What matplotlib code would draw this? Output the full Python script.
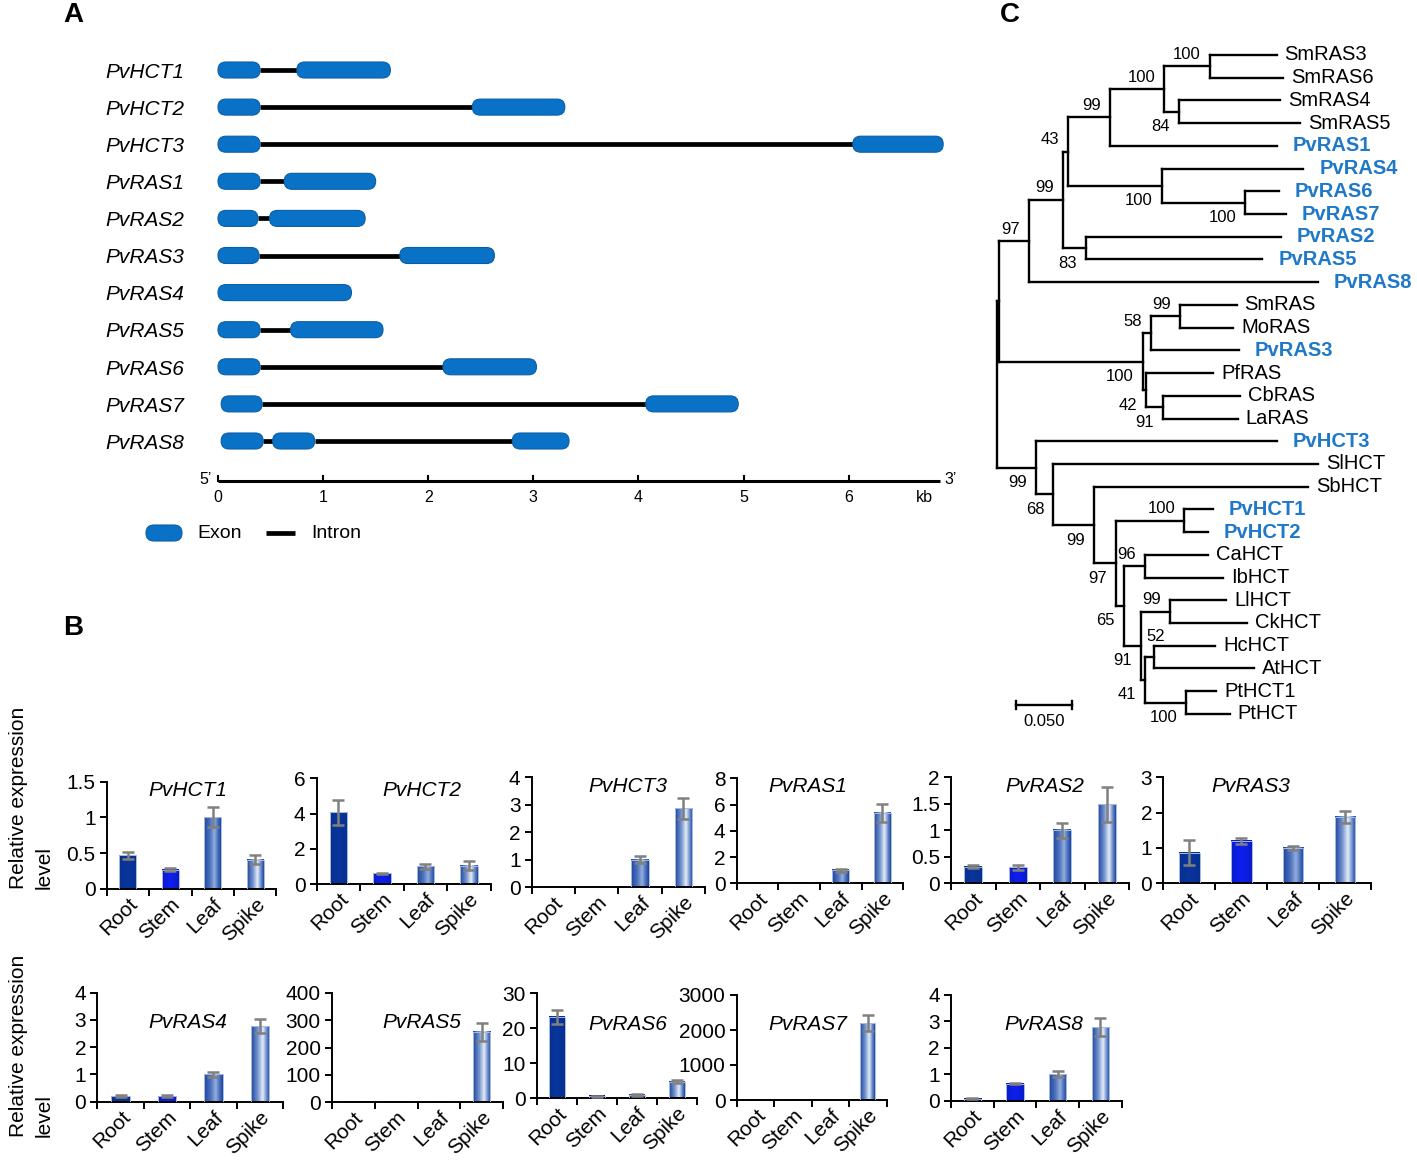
import numpy as np
import matplotlib
matplotlib.use("Agg")
import matplotlib.pyplot as plt
from matplotlib.patches import FancyBboxPatch
from matplotlib.colors import LinearSegmentedColormap
from matplotlib.transforms import ScaledTranslation, blended_transform_factory
from matplotlib.ticker import FormatStrFormatter

plt.rcParams['font.family'] = ['Liberation Sans', 'DejaVu Sans']

# ---------------- data ----------------
# A: exon coordinates (kb) per gene
gene_names = ["PvHCT1", "PvHCT2", "PvHCT3", "PvRAS1", "PvRAS2", "PvRAS3",
              "PvRAS4", "PvRAS5", "PvRAS6", "PvRAS7", "PvRAS8"]
gene_exons = [
    [(0.0, 0.40), (0.75, 1.64)],
    [(0.0, 0.40), (2.42, 3.30)],
    [(0.0, 0.40), (6.04, 6.90)],
    [(0.0, 0.40), (0.63, 1.50)],
    [(0.0, 0.38), (0.49, 1.40)],
    [(0.0, 0.39), (1.73, 2.63)],
    [(0.0, 1.27)],
    [(0.0, 0.40), (0.69, 1.57)],
    [(0.0, 0.40), (2.14, 3.03)],
    [(0.03, 0.42), (4.07, 4.95)],
    [(0.03, 0.43), (0.52, 0.92), (2.80, 3.34)],
]
scale_ticks = [0, 1, 2, 3, 4, 5, 6]

# C: tree (depth in substitutions / site)
tip_names = ["SmRAS3", "SmRAS6", "SmRAS4", "SmRAS5", "PvRAS1", "PvRAS4", "PvRAS6",
             "PvRAS7", "PvRAS2", "PvRAS5", "PvRAS8", "SmRAS", "MoRAS", "PvRAS3",
             "PfRAS", "CbRAS", "LaRAS", "PvHCT3", "SlHCT", "SbHCT", "PvHCT1",
             "PvHCT2", "CaHCT", "IbHCT", "LlHCT", "CkHCT", "HcHCT", "AtHCT",
             "PtHCT1", "PtHCT"]
tip_depth = [0.251, 0.257, 0.254, 0.272, 0.251, 0.275, 0.253, 0.259, 0.255, 0.238,
             0.288, 0.215, 0.212, 0.217, 0.194, 0.218, 0.216, 0.251, 0.288, 0.279,
             0.194, 0.189, 0.189, 0.203, 0.206, 0.224, 0.196, 0.231, 0.197, 0.209]
node_names = ["n1", "n2", "n3", "n4", "n5", "n6", "n7", "n8", "n9", "n10", "n11",
              "n12", "n13", "n14", "n15", "n16", "n17", "n18", "n19", "n20", "n21",
              "n22", "n23", "n24", "n25", "n26", "n27", "n28", "root"]
node_children = [("SmRAS3", "SmRAS6"), ("SmRAS4", "SmRAS5"), ("n1", "n2"), ("n3", "PvRAS1"),
                 ("PvRAS6", "PvRAS7"), ("PvRAS4", "n5"), ("n4", "n6"), ("PvRAS2", "PvRAS5"),
                 ("n7", "n8"), ("n9", "PvRAS8"), ("SmRAS", "MoRAS"), ("n11", "PvRAS3"),
                 ("CbRAS", "LaRAS"), ("PfRAS", "n13"), ("n12", "n14"), ("n10", "n15"),
                 ("PvHCT1", "PvHCT2"), ("CaHCT", "IbHCT"), ("LlHCT", "CkHCT"),
                 ("HcHCT", "AtHCT"), ("PtHCT1", "PtHCT"), ("n20", "n21"), ("n19", "n22"),
                 ("n18", "n23"), ("n17", "n24"), ("SbHCT", "n25"), ("SlHCT", "n26"),
                 ("PvHCT3", "n27"), ("n16", "n28")]
node_depth = [0.191, 0.163, 0.150, 0.101, 0.223, 0.148, 0.0635, 0.080, 0.0595, 0.029,
              0.164, 0.138, 0.149, 0.134, 0.131, 0.002, 0.168, 0.133, 0.155, 0.141,
              0.170, 0.133, 0.129, 0.114, 0.1066, 0.087, 0.0505, 0.0347, 0.0]
node_boot = [100, 84, 100, 99, 100, 100, 43, 83, 99, 97, 99, 58, 91, 42, 100, None,
             100, 96, 99, 52, 100, 41, 91, 65, 97, 99, 68, 99, None]
node_side = ["a", "b", "a", "a", "b", "b", "a", "b", "a", "a", "a", "a", "b", "b", "b", "",
             "a", "a", "a", "r", "b", "b", "b", "b", "b", "b", "b", "b", ""]

# B: qRT-PCR relative expression
tissues = ["Root", "Stem", "Leaf", "Spike"]
expr_genes = ["PvHCT1", "PvHCT2", "PvHCT3", "PvRAS1", "PvRAS2", "PvRAS3",
              "PvRAS4", "PvRAS5", "PvRAS6", "PvRAS7", "PvRAS8"]
hct1_mean, hct1_err = [0.47, 0.27, 1.0, 0.41], [0.05, 0.02, 0.14, 0.06]
hct2_mean, hct2_err = [4.07, 0.60, 1.0, 1.05], [0.70, 0.05, 0.15, 0.28]
hct3_mean, hct3_err = [0.01, 0.01, 1.0, 2.87], [0, 0, 0.12, 0.38]
ras1_mean, ras1_err = [0.01, 0.02, 1.0, 5.35], [0, 0, 0.12, 0.68]
ras2_mean, ras2_err = [0.31, 0.30, 1.0, 1.49], [0.03, 0.05, 0.14, 0.33]
ras3_mean, ras3_err = [0.87, 1.20, 1.0, 1.87], [0.35, 0.09, 0.05, 0.17]
ras4_mean, ras4_err = [0.22, 0.20, 1.0, 2.78], [0.03, 0.03, 0.10, 0.25]
ras5_mean, ras5_err = [0.3, 0.2, 1.0, 258], [0, 0, 0, 33]
ras6_mean, ras6_err = [23.2, 0.6, 1.0, 4.7], [1.9, 0.1, 0.25, 0.4]
ras7_mean, ras7_err = [0.5, 0.3, 1.0, 2200], [0, 0, 0, 230]
ras8_mean, ras8_err = [0.08, 0.65, 1.0, 2.78], [0.02, 0.03, 0.12, 0.35]
expr_ymax = [1.5, 6, 4, 8, 2, 3, 4, 400, 30, 3000, 4]
expr_ystep = [0.5, 2, 1, 2, 0.5, 1, 1, 100, 10, 1000, 1]

expr_means = [hct1_mean, hct2_mean, hct3_mean, ras1_mean, ras2_mean, ras3_mean,
              ras4_mean, ras5_mean, ras6_mean, ras7_mean, ras8_mean]
expr_errs = [hct1_err, hct2_err, hct3_err, ras1_err, ras2_err, ras3_err,
             ras4_err, ras5_err, ras6_err, ras7_err, ras8_err]

# ---------------- figure ----------------
W, H = 1417, 1169
fig = plt.figure(figsize=(W / 100, H / 100), dpi=100)


def add_px_axes(l, t, r, b):
    return fig.add_axes([l / W, 1 - b / H, (r - l) / W, (b - t) / H])


def fig_text(x, y, s, **kw):
    return fig.text(x / W, 1 - y / H, s, **kw)


EXON = "#0A72C6"
PV_BLUE = "#1F78C8"

# ---- A: gene structure ----
KB0, PXKB = 218, 105.1
ROW0, PXROW = 70, 37.1
axA = add_px_axes(90, 40, 965, 560)
axA.set_xlim((90 - KB0) / PXKB, (965 - KB0) / PXKB)
axA.set_ylim((560 - ROW0) / PXROW, (40 - ROW0) / PXROW)
axA.axis("off")
exon_h = 16 / PXROW


def draw_exon(x0, x1, y):
    p = FancyBboxPatch((x0, y - exon_h / 2), x1 - x0, exon_h,
                       boxstyle="round,pad=0,rounding_size=%f" % (7.9 / PXKB),
                       mutation_aspect=PXKB / PXROW,
                       fc=EXON, ec="#0B5EA6", lw=0.8, zorder=3)
    axA.add_patch(p)


lab_tr = blended_transform_factory(axA.transAxes, axA.transData)
for i, (name, exons) in enumerate(zip(gene_names, gene_exons)):
    axA.text(0.017, i + 0.06, name, transform=lab_tr, style="italic", fontsize=15,
             va="center", ha="left")
    for e0, e1 in zip(exons[:-1], exons[1:]):
        axA.plot([e0[1], e1[0]], [i, i], color="black", lw=3.4,
                 solid_capstyle="butt", zorder=2)
    for x0, x1 in exons:
        draw_exon(x0, x1, i)

scale_y = (481 - ROW0) / PXROW
axA.plot([0, 6.87], [scale_y, scale_y], color="black", lw=2.2, solid_capstyle="butt")
for t in scale_ticks:
    axA.plot([t, t], [scale_y, scale_y - 5 / PXROW], color="black", lw=1.5)
    axA.text(t, (498 - ROW0) / PXROW, str(t), ha="center", va="center", fontsize=11.5)
axA.text((924 - KB0) / PXKB, (498 - ROW0) / PXROW, "kb", ha="center", va="center",
         fontsize=11.5)
axA.text((206 - KB0) / PXKB, (479 - ROW0) / PXROW, "5\u2019", ha="center", va="center",
         fontsize=11.5)
axA.text((951 - KB0) / PXKB, (479 - ROW0) / PXROW, "3\u2019", ha="center", va="center",
         fontsize=11.5)

# legend
leg_y = (533 - ROW0) / PXROW
draw_exon((146 - KB0) / PXKB, (182 - KB0) / PXKB, leg_y)
axA.text((197 - KB0) / PXKB, leg_y, "Exon", va="center", ha="left", fontsize=14)
axA.plot([(266 - KB0) / PXKB, (295 - KB0) / PXKB], [leg_y, leg_y], color="black",
         lw=3.4, solid_capstyle="butt")
axA.text((311 - KB0) / PXKB, leg_y, "Intron", va="center", ha="left", fontsize=14)

# ---- C: phylogenetic tree ----
X0C, PXD = 997, 1114
TIP0, PXTIP = 55, 22.72
axC = add_px_axes(990, 40, 1417, 740)
axC.set_xlim((990 - X0C) / PXD, (1417 - X0C) / PXD)
axC.set_ylim((740 - TIP0) / PXTIP, (40 - TIP0) / PXTIP)
axC.axis("off")

ypos = {n: float(i) for i, n in enumerate(tip_names)}
xpos = {n: d for n, d in zip(tip_names, tip_depth)}
for n, ch, d in zip(node_names, node_children, node_depth):
    ypos[n] = np.mean([ypos[c] for c in ch])
    xpos[n] = d

LW = 1.7
for n, ch, d, b, side in zip(node_names, node_children, node_depth, node_boot, node_side):
    ys = [ypos[c] for c in ch]
    axC.plot([d, d], [min(ys), max(ys)], color="black", lw=LW, solid_capstyle="projecting")
    for c in ch:
        axC.plot([d, xpos[c]], [ypos[c], ypos[c]], color="black", lw=LW,
                 solid_capstyle="projecting")
    if b is None:
        continue
    if side == "r":
        axC.annotate(str(b), (d, ypos[n]), xytext=(2, 21), textcoords="offset pixels",
                     ha="center", va="center", fontsize=12)
    else:
        dy = 12 if side == "a" else -15
        axC.annotate(str(b), (d, ypos[n]), xytext=(-9, dy), textcoords="offset pixels",
                     ha="right", va="center", fontsize=12)

for n in tip_names:
    pv = n.startswith("Pv")
    axC.annotate(n, (xpos[n], ypos[n]), xytext=(16 if pv else 8, 0),
                 textcoords="offset pixels", ha="left", va="center", fontsize=14.5,
                 color=PV_BLUE if pv else "black",
                 fontweight="bold" if pv else "normal")

# scale bar
sb_y = (705 - TIP0) / PXTIP
sb_x0 = (1016 - X0C) / PXD
axC.plot([sb_x0, sb_x0 + 0.05], [sb_y, sb_y], color="black", lw=LW)
for xx in (sb_x0, sb_x0 + 0.05):
    axC.plot([xx, xx], [sb_y - 4 / PXTIP, sb_y + 4 / PXTIP], color="black", lw=LW)
axC.text(sb_x0 + 0.025, (721 - TIP0) / PXTIP, "0.050", ha="center", va="center",
         fontsize=12)

# ---- B: expression bars ----
bar_boxes = [(106.7, 781.7, 276.3, 889), (316.7, 778.3, 490.7, 884),
             (531.7, 777.3, 705, 887.3), (736.7, 778.3, 903.3, 883.3),
             (951, 777.3, 1129, 883.3), (1163.3, 777.3, 1371, 883.3),
             (97.3, 992.7, 283, 1101.7), (331.7, 992.7, 503.3, 1102.3),
             (536.7, 993.3, 696.7, 1098.3), (736.7, 995, 886.7, 1100),
             (951, 995, 1121.7, 1100.7)]
title_pos = [(188, 791), (422, 791), (628, 787), (808, 787), (1045, 787), (1251, 787),
             (188, 1023), (422, 1023), (628, 1024), (808, 1024), (1044, 1024)]

tissue_cmaps = [
    LinearSegmentedColormap.from_list("root", ["#06308F", "#0A359D", "#06308F"]),
    LinearSegmentedColormap.from_list("stem", ["#0A1BC8", "#0D20F2", "#0A1BC8"]),
    LinearSegmentedColormap.from_list(
        "leaf", [(0, "#1D459E"), (0.35, "#4C71BE"), (0.62, "#93AEDD"),
                 (0.85, "#3F67B8"), (1, "#1D459E")]),
    LinearSegmentedColormap.from_list(
        "spike", [(0, "#1D459E"), (0.35, "#7493CE"), (0.62, "#E4ECF7"),
                  (0.85, "#5E82C6"), (1, "#1D459E")]),
]
grad = np.linspace(0, 1, 128)[None, :]
BW = 0.4

for k, g in enumerate(expr_genes):
    ax = add_px_axes(*bar_boxes[k])
    mean = np.array(expr_means[k], float)
    err = np.array(expr_errs[k], float)
    xs = np.arange(len(tissues))
    for i in range(len(tissues)):
        ax.imshow(grad, cmap=tissue_cmaps[i], aspect="auto", interpolation="bilinear",
                  extent=(xs[i] - BW / 2, xs[i] + BW / 2, 0, mean[i]), zorder=2)
        ax.bar(xs[i], mean[i], BW, color="none", edgecolor="#A9BCE2", lw=0.7, zorder=3)
    sel = err > 0
    ax.errorbar(xs[sel], mean[sel], yerr=err[sel], fmt="none", ecolor="#808080",
                elinewidth=1.8, capsize=4.5, capthick=1.8, zorder=4)
    ymax, step = expr_ymax[k], expr_ystep[k]
    ax.set_xlim(-0.5, len(tissues) - 0.5)
    ax.set_ylim(0, ymax)
    ax.set_yticks(np.arange(0, ymax + step / 2, step))
    ax.yaxis.set_major_formatter(FormatStrFormatter("%g"))
    ax.set_xticks(np.arange(-0.5, len(tissues), 1))
    ax.set_xticklabels([])
    ax.set_xticks(xs, minor=True)
    ax.set_xticklabels(tissues, minor=True, rotation=45, ha="right", va="top",
                       rotation_mode="anchor")
    off = ScaledTranslation(8 / 100, 0, fig.dpi_scale_trans)
    for lab in ax.get_xticklabels(minor=True):
        lab.set_transform(lab.get_transform() + off)
    ax.tick_params(axis="x", which="minor", length=0, labelsize=15, pad=4)
    ax.tick_params(axis="x", which="major", length=5, width=1.4, direction="out")
    ax.tick_params(axis="y", length=5, width=1.4, direction="out", labelsize=15, pad=3)
    for s in ("top", "right"):
        ax.spines[s].set_visible(False)
    for s in ("left", "bottom"):
        ax.spines[s].set_linewidth(1.4)
    ax.patch.set_alpha(0)
    fig_text(title_pos[k][0], title_pos[k][1], g, style="italic", fontsize=15,
             ha="center", va="center")

for yc in (798, 1046):
    fig_text(31, yc, "Relative expression\nlevel", rotation=90, ha="center",
             va="center", multialignment="left", fontsize=15, linespacing=1.45)

# panel letters
fig_text(73, 15, "A", fontweight="bold", fontsize=20, ha="center", va="center")
fig_text(73, 628, "B", fontweight="bold", fontsize=20, ha="center", va="center")
fig_text(1010, 15, "C", fontweight="bold", fontsize=20, ha="center", va="center")

fig.savefig("out.png", dpi=100)
